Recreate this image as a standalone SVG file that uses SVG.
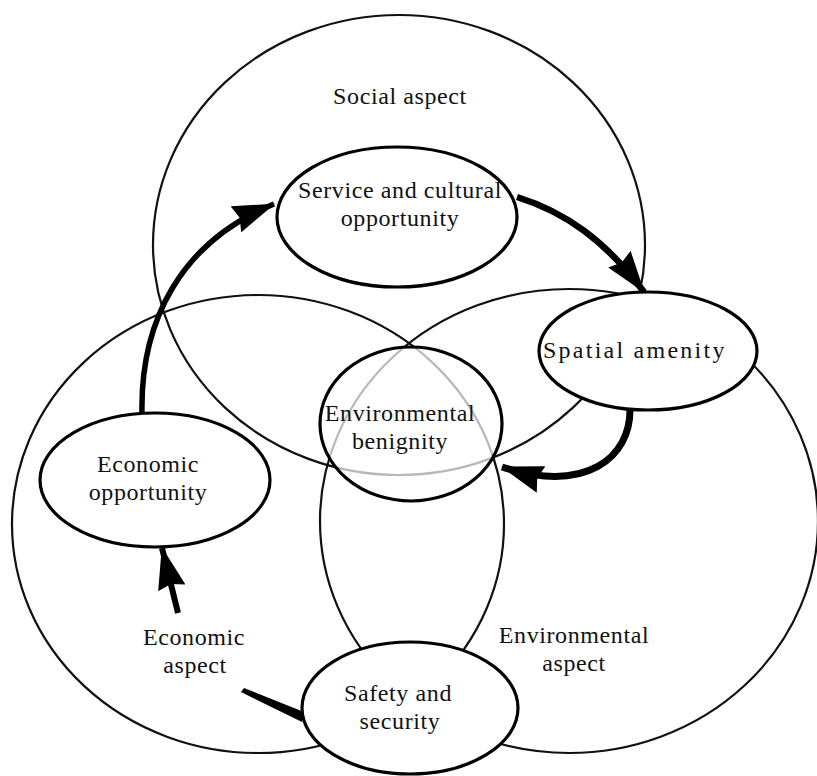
<svg xmlns="http://www.w3.org/2000/svg" width="817" height="776" viewBox="0 0 817 776">
  <defs>
    <style>
      .aspect { fill: none; stroke: #111; stroke-width: 2.2; }
      .node { fill: #fff; stroke: #000; stroke-width: 3.2; }
      .node.core { fill: #fff; fill-opacity: 0.7; }
      .flow { fill: none; stroke: #000; stroke-linecap: butt; }
      text { font-family: "Liberation Serif", "Times New Roman", serif; font-size: 24px; letter-spacing: 0.6px; fill: #111; text-anchor: middle; }
    </style>
    <marker id="head" markerUnits="userSpaceOnUse" viewBox="0 0 42 28" markerWidth="42" markerHeight="28" refX="41" refY="14" orient="auto">
      <path d="M0,0 L42,14 L0,28 L4,14 Z" fill="#000"/>
    </marker>
  </defs>

  <!-- three overlapping aspects -->
  <g id="aspects">
    <ellipse id="social-aspect" class="aspect" cx="399" cy="245" rx="246" ry="230"/>
    <ellipse id="economic-aspect" class="aspect" cx="258" cy="524" rx="246" ry="229"/>
    <ellipse id="environmental-aspect" class="aspect" cx="569" cy="521" rx="249" ry="232"/>
  </g>

  <g id="aspect-labels">
    <text x="400" y="104">Social aspect</text>
    <text x="194" y="645">Economic</text>
    <text x="195" y="673">aspect</text>
    <text x="574" y="643">Environmental</text>
    <text x="574" y="671">aspect</text>
  </g>

  <!-- flows between qualities -->
  <g id="connectors">
    <path class="flow" d="M142,414 C140,322 180,242 274,204" stroke-width="5.5" marker-end="url(#head)"/>
    <path class="flow" d="M517,197 C565,212 605,240 644,292" stroke-width="6.5" marker-end="url(#head)"/>
    <path class="flow" d="M630,408 C631,458 586,494 502,467" stroke-width="7" marker-end="url(#head)"/>
    <path class="flow" d="M178,613 L162,548" stroke-width="6" marker-end="url(#head)"/>
    <path d="M241,692 L244,688 L304,712 L302,722 Z" fill="#000"/>
  </g>

  <g id="node-service">
    <ellipse class="node" cx="397" cy="217" rx="120" ry="70"/>
    <text x="400" y="198">Service and cultural</text>
    <text x="400" y="226">opportunity</text>
  </g>

  <g id="node-spatial">
    <ellipse class="node" cx="648" cy="351" rx="109" ry="59"/>
    <text x="634" y="358" textLength="182" lengthAdjust="spacing">Spatial amenity</text>
  </g>

  <g id="node-benignity">
    <ellipse class="node core" cx="411" cy="424" rx="91" ry="77"/>
    <text x="400" y="421">Environmental</text>
    <text x="400" y="449">benignity</text>
  </g>

  <g id="node-economic">
    <ellipse class="node" cx="155" cy="480" rx="115" ry="67"/>
    <text x="148" y="472">Economic</text>
    <text x="148" y="500">opportunity</text>
  </g>

  <g id="node-safety">
    <ellipse class="node" cx="410" cy="708" rx="108" ry="66"/>
    <text x="398" y="701">Safety and</text>
    <text x="400" y="729">security</text>
  </g>
</svg>
